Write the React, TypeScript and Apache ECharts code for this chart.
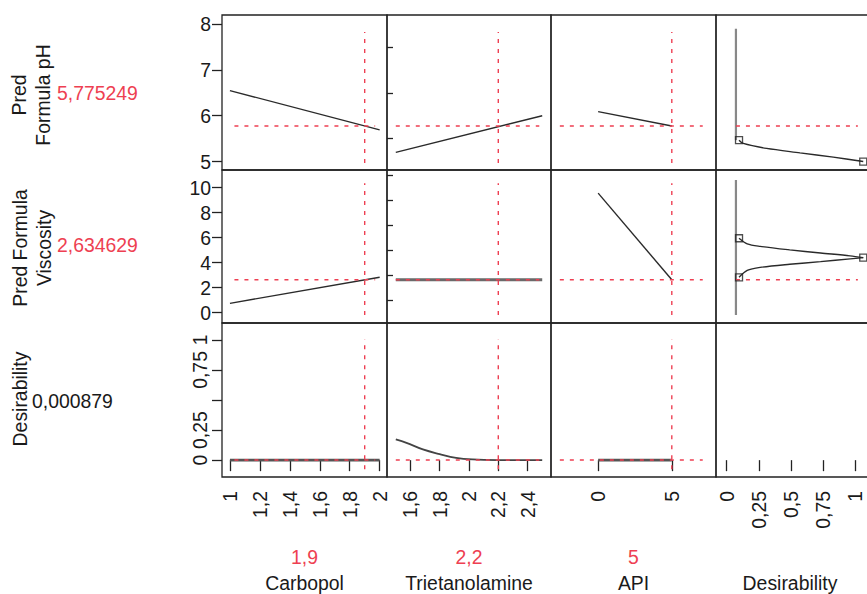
import React, { useEffect, useRef } from "react";
import * as echarts from "echarts";

// ---- Settings / labels ----
const factorNames = ["Carbopol", "Trietanolamine", "API", "Desirability"];
const currentSettings = [1.9, 2.2, 5];
const responseNames = [["Pred", "Formula pH"], ["Pred Formula", "Viscosity"], ["Desirability"]];
const predictedValues = [5.775249, 2.634629, 0.000879];

// ---- Tick values ----
const carbopolTicks = [1, 1.2, 1.4, 1.6, 1.8, 2];
const trietTicks = [1.6, 1.8, 2, 2.2, 2.4];
const apiTicks = [0, 5];
const desirXTicks = [0, 0.25, 0.5, 0.75, 1];
const phTicks = [5, 6, 7, 8];
const phMinorTicks = [5.5, 6.5, 7.5];
const viscTicks = [0, 2, 4, 6, 8, 10];
const viscMinorTicks = [1, 3, 5, 7, 9, 11];
const desirYTicks = [0, 0.25, 0.5, 0.75, 1];
const desirYLabels = [0, 0.25, 0.75, 1];

// ---- Profile traces ----
const carbopolX = [1, 2];
const carbopolPH = [6.55, 5.69];
const carbopolVisc = [0.75, 2.83];
const carbopolDesir = [0, 0];

const trietX = [1.5, 2.5];
const trietPH = [5.2, 6.0];
const trietVisc = [2.634629, 2.634629];
const trietDesirX = [1.5, 1.573, 1.685, 1.8, 1.912, 2.025, 2.2, 2.5];
const trietDesir = [0.1725, 0.144, 0.089, 0.05, 0.019, 0.006, 0.000879, 0];

const apiX = [0, 5];
const apiPH = [6.09, 5.775249];
const apiVisc = [9.55, 2.634629];
const apiDesir = [0, 0];

// ---- Desirability functions (x = desirability, y = response) ----
const dLow = 0.072;
const phVertical = [7.9, 5.467];
const phFnD = [0.096, 0.129, 0.311, 0.57, 0.829, 1.062];
const phFnY = [5.467, 5.395, 5.286, 5.19, 5.096, 5.0];
const phSquaresD = [0.096, 1.062];
const phSquaresY = [5.467, 5.0];

const viscVertical = [10.6, -0.18];
const viscUpperD = [0.096, 0.16, 0.26, 0.49, 0.73, 0.96, 1.062];
const viscUpperY = [5.95, 5.5, 5.3, 5.02, 4.77, 4.54, 4.4];
const viscLowerD = [0.096, 0.16, 0.26, 0.49, 0.73, 0.96, 1.062];
const viscLowerY = [2.83, 3.38, 3.62, 3.87, 4.08, 4.3, 4.4];
const viscSquaresD = [0.096, 0.096, 1.062];
const viscSquaresY = [5.95, 2.83, 4.4];

// ---- Reference (dotted) line extents ----
const hLineExtents = [[1.03, 1.97], [1.5, 2.48], [-2.6, 7.1], [0.072, 1.02]];
const vLineExtents = [[4.97, 7.83], [-0.18, 10.35], [-0.075, 1.008]];

const RED = "#ee3f52";
const INK = "#1a1a1a";
const FONT = "'Liberation Sans', Arial, sans-serif";
const FS = 19.4;

const fmt = (v: number) => String(v).replace(".", ",");

export default function App() {
  const ref = useRef<HTMLDivElement>(null);
  useEffect(() => {
    if (!ref.current) return;
    const chart = echarts.init(ref.current, null, { renderer: "svg" });

    const cols = [
      { left: 222, width: 165, min: 0.947, max: 2.049, ticks: carbopolTicks },
      { left: 387, width: 164, min: 1.44, max: 2.56, ticks: trietTicks },
      { left: 551, width: 165, min: -3.2, max: 8.0, ticks: apiTicks },
      { left: 716, width: 156, min: -0.083, max: 1.13, ticks: desirXTicks },
    ];
    const rows = [
      { top: 15, height: 155, min: 4.815, max: 8.2, ticks: phTicks, labels: phTicks, minor: phMinorTicks, rotate: 0, margin: 11 },
      { top: 170, height: 153, min: -0.82, max: 11.4, ticks: viscTicks, labels: viscTicks, minor: viscMinorTicks, rotate: 0, margin: 11 },
      { top: 323, height: 154, min: -0.14, max: 1.14, ticks: desirYTicks, labels: desirYLabels, minor: null as number[] | null, rotate: 90, margin: 13 },
    ];

    const grids: any[] = [];
    const xAxes: any[] = [];
    const yAxes: any[] = [];
    rows.forEach((r, ri) => {
      cols.forEach((c, ci) => {
        const gi = ri * 4 + ci;
        grids.push({
          left: c.left, top: r.top, width: c.width, height: r.height,
          show: true, borderColor: "#222", borderWidth: 1.3, backgroundColor: "transparent",
        });
        const bottom = ri === 2;
        xAxes.push({
          type: "value", gridIndex: gi, min: c.min, max: c.max,
          axisLine: { show: false },
          splitLine: { show: false },
          axisTick: { show: bottom, customValues: c.ticks, length: 11, lineStyle: { color: "#222", width: 1.3 } },
          axisLabel: {
            show: bottom, customValues: c.ticks, rotate: 90, margin: 14,
            formatter: fmt, fontSize: FS, fontFamily: FONT, color: INK,
          },
        });
        const left = ci === 0;
        yAxes.push({
          type: "value", gridIndex: gi, min: r.min, max: r.max,
          axisLine: { show: false },
          splitLine: { show: false },
          axisTick: { show: left, customValues: r.ticks, length: 10, lineStyle: { color: "#222", width: 1.3 } },
          axisLabel: {
            show: left, customValues: r.labels, rotate: r.rotate, margin: r.margin,
            formatter: fmt, fontSize: FS, fontFamily: FONT, color: INK,
          },
        });
      });
    });
    // minor tick axes
    rows.forEach((r, ri) => {
      if (!r.minor) return;
      yAxes.push({
        type: "value", gridIndex: ri * 4, min: r.min, max: r.max,
        axisLine: { show: false }, splitLine: { show: false },
        axisLabel: { show: false },
        axisTick: { show: true, customValues: r.minor, length: 6, lineStyle: { color: "#222", width: 1.3 } },
      });
    });

    const series: any[] = [];
    const pairs = (xs: number[], ys: number[]) => xs.map((x, i) => [x, ys[i]]);
    const line = (gi: number, data: number[][], color = "#2a2a2a", width = 1.4, smooth: any = false, type: any = "solid") => {
      series.push({
        type: "line", xAxisIndex: gi, yAxisIndex: gi, data, symbol: "none", smooth,
        lineStyle: { color, width, type }, silent: true, z: 3,
      });
    };

    // Row 1: pH
    line(0, pairs(carbopolX, carbopolPH));
    line(1, pairs(trietX, trietPH));
    line(2, pairs(apiX, apiPH));
    line(3, [[dLow, phVertical[0]], [dLow, phVertical[1]]], "#888", 2.2);
    line(3, pairs(phFnD, phFnY), "#2a2a2a", 1.4, 0.3);
    // Row 2: viscosity
    line(4, pairs(carbopolX, carbopolVisc));
    line(5, pairs(trietX, trietVisc), "#6a6a6a", 3);
    line(6, pairs(apiX, apiVisc));
    line(7, [[dLow, viscVertical[0]], [dLow, viscVertical[1]]], "#888", 2.2);
    line(7, pairs(viscUpperD, viscUpperY), "#2a2a2a", 1.4, 0.3);
    line(7, pairs(viscLowerD, viscLowerY), "#2a2a2a", 1.4, 0.3);
    // Row 3: desirability
    line(8, pairs(carbopolX, carbopolDesir), "#555", 2.6);
    line(9, pairs(trietDesirX, trietDesir), "#444", 1.8, 0.4);
    line(10, pairs(apiX, apiDesir), "#555", 2.6);

    // squares
    const squares = (gi: number, xs: number[], ys: number[]) => {
      series.push({
        type: "scatter", xAxisIndex: gi, yAxisIndex: gi, data: pairs(xs, ys),
        symbol: "rect", symbolSize: 7, silent: true, z: 5,
        itemStyle: { color: "rgba(255,255,255,0)", borderColor: "#222", borderWidth: 1.3 },
      });
    };
    squares(3, phSquaresD, phSquaresY);
    squares(7, viscSquaresD, viscSquaresY);

    // red dotted reference lines
    for (let ri = 0; ri < 3; ri++) {
      for (let ci = 0; ci < 4; ci++) {
        if (ri === 2 && ci === 3) continue;
        const gi = ri * 4 + ci;
        const yv = predictedValues[ri];
        line(gi, [[hLineExtents[ci][0], yv], [hLineExtents[ci][1], yv]], RED, 1.4, false, [4, 6]);
        if (ci < 3) {
          const xv = currentSettings[ci];
          line(gi, [[xv, vLineExtents[ri][0]], [xv, vLineExtents[ri][1]]], RED, 1.4, false, [4, 6]);
        }
      }
    }

    const graphics: any[] = [];
    const txt = (text: string, x: number, y: number, opts: any = {}) => {
      graphics.push({
        type: "text", x, y, rotation: opts.rotation || 0,
        style: {
          text, fill: opts.color || INK, font: `${FS}px ${FONT}`,
          align: opts.align || "center", verticalAlign: "middle",
        },
      });
    };
    // response labels (rotated)
    txt(responseNames[0][0], 19, 95, { rotation: Math.PI / 2 });
    txt(responseNames[0][1], 43, 95, { rotation: Math.PI / 2 });
    txt(responseNames[1][0], 20, 248, { rotation: Math.PI / 2 });
    txt(responseNames[1][1], 44, 248, { rotation: Math.PI / 2 });
    txt(responseNames[2][0], 20, 399, { rotation: Math.PI / 2 });
    txt(fmt(predictedValues[0]), 57, 93, { align: "left", color: RED });
    txt(fmt(predictedValues[1]), 57, 245, { align: "left", color: RED });
    txt(fmt(predictedValues[2]), 32, 401, { align: "left", color: INK });
    // factor labels
    cols.forEach((c, ci) => {
      const cx = ci === 3 ? 790 : c.left + c.width / 2;
      if (ci < 3) txt(fmt(currentSettings[ci]), cx, 557, { color: RED });
      txt(factorNames[ci], cx, 583);
    });

    chart.setOption({
      animation: false,
      backgroundColor: "#fff",
      grid: grids,
      xAxis: xAxes,
      yAxis: yAxes,
      series,
      graphic: graphics,
    });
    return () => chart.dispose();
  }, []);
  return <div ref={ref} style={{ position: "fixed", left: 0, top: 0, width: 900, height: 594 }} />;
}
